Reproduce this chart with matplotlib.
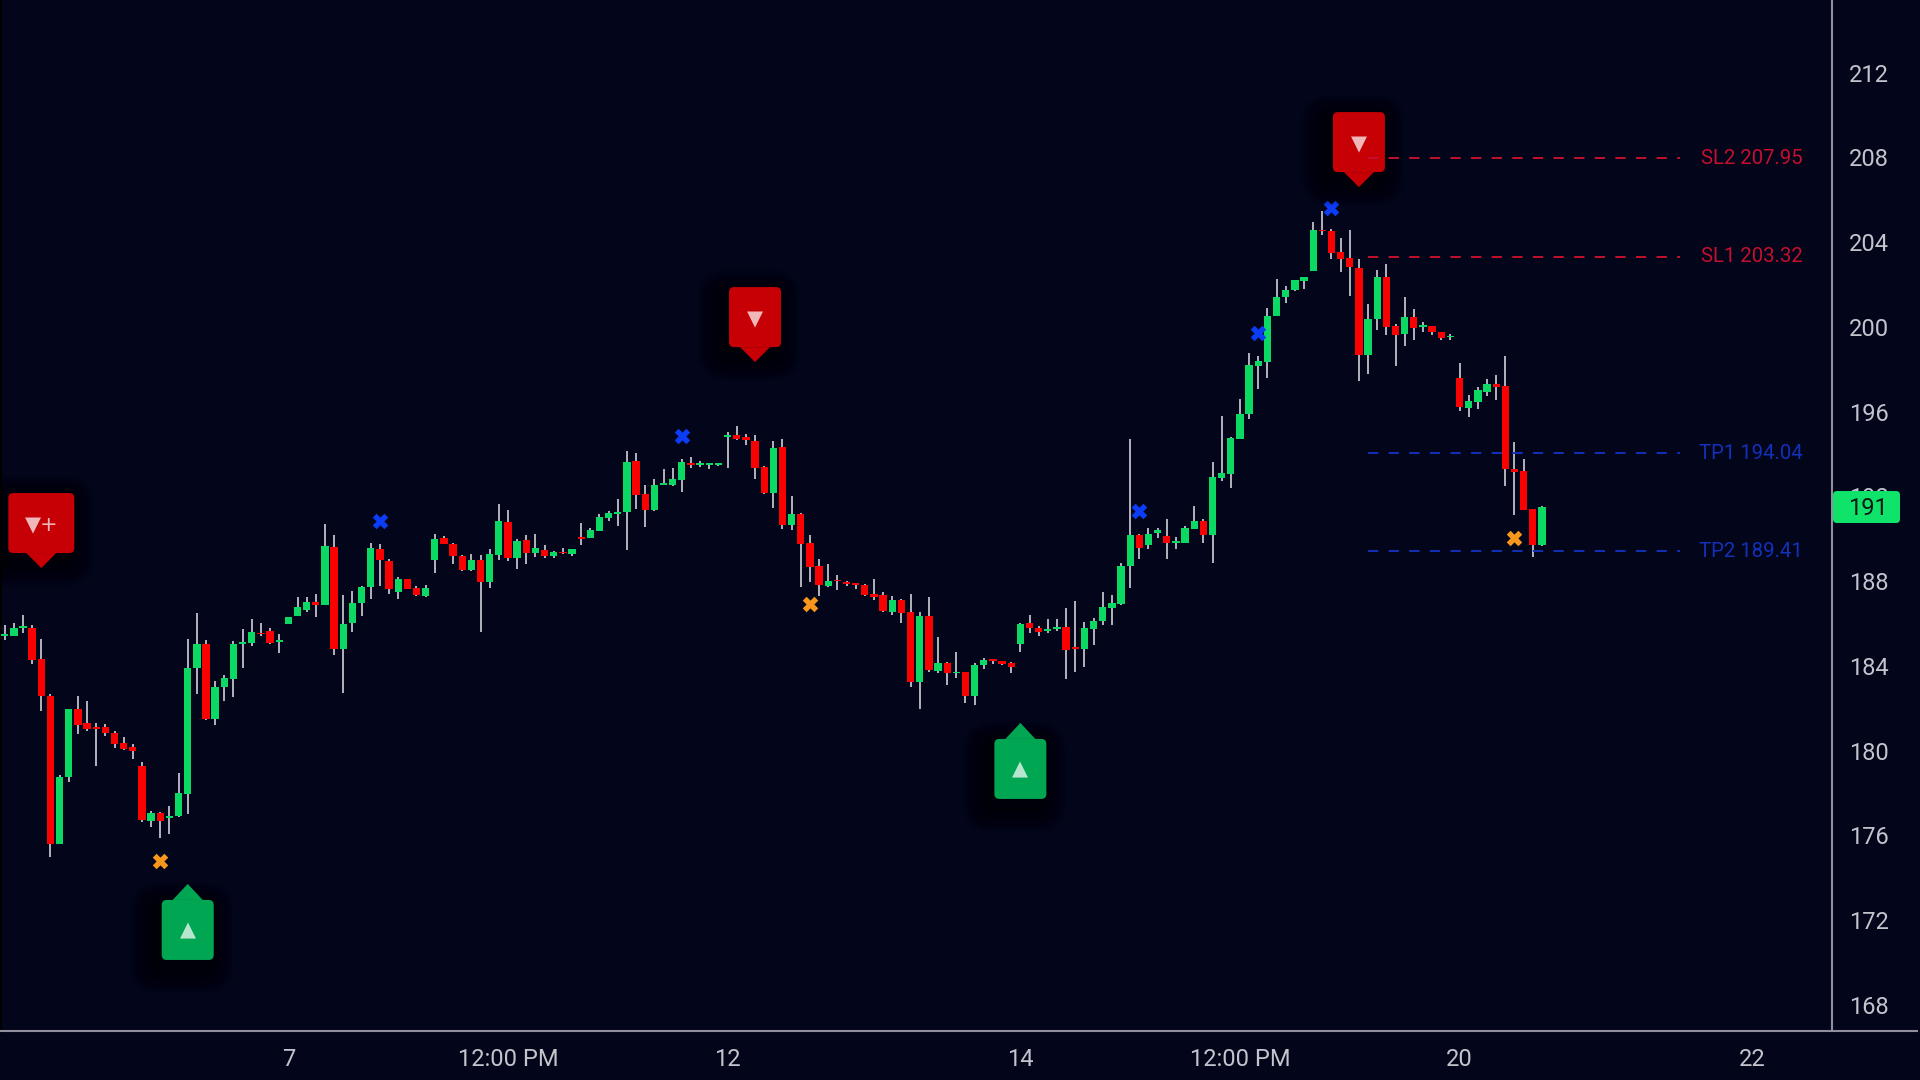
import matplotlib

matplotlib.use("Agg")

import matplotlib.pyplot as plt
import numpy as np
from matplotlib.lines import Line2D
from matplotlib.patches import FancyBboxPatch, Polygon
from matplotlib.transforms import IdentityTransform

plt.rcParams["font.family"] = ["Roboto", "DejaVu Sans"]

opens = [
    185.41, 185.43, 185.79, 185.78, 184.33, 182.58, 175.58, 178.74, 181.98, 181.29,
    181.09, 181.10, 180.85, 180.35, 180.19, 179.28, 176.70, 177.05, 176.80, 176.92,
    177.97, 183.90, 185.05, 181.48, 183.01, 183.40, 185.05, 185.10, 185.56, 185.67,
    185.13, 185.98, 186.36, 186.63, 187.02, 186.89, 189.61, 184.79, 186.01, 186.97,
    187.71, 189.50, 188.97, 187.51, 188.10, 187.66, 187.29, 188.99, 190.04, 189.76,
    189.19, 188.53, 188.99, 187.95, 189.24, 190.81, 189.11, 189.94, 189.33, 189.47,
    189.20, 189.38, 189.27, 190.07, 190.04, 190.38, 190.98, 191.15, 191.26, 193.67,
    192.11, 191.36, 192.55, 192.54, 192.79, 193.58, 193.50, 193.48, 193.48, 194.79,
    194.90, 194.82, 194.63, 193.39, 192.18, 194.33, 190.65, 191.17, 189.80, 188.72,
    187.77, 188.06, 187.96, 187.87, 187.82, 187.40, 187.35, 186.53, 187.11, 186.55,
    183.24, 186.37, 183.76, 184.12, 183.65, 183.70, 182.60, 184.03, 184.31, 184.23,
    184.14, 185.02, 186.01, 185.79, 185.66, 185.76, 185.84, 184.88, 184.82, 185.76,
    186.11, 186.75, 186.91, 188.73, 190.20, 189.69, 190.26, 190.13, 189.80, 189.82,
    190.45, 190.86, 190.20, 192.88, 193.04, 194.69, 195.89, 198.17, 198.36, 200.53,
    201.41, 201.74, 202.17, 202.64, 204.58, 204.53, 203.54, 203.25, 202.78, 198.69,
    200.36, 202.34, 200.05, 199.67, 200.47, 200.01, 200.05, 199.75, 199.51, 197.59,
    196.19, 196.47, 196.94, 197.30, 197.19, 193.29, 193.20, 191.41, 189.71,
]
highs = [
    185.93, 186.01, 186.39, 185.93, 185.26, 182.66, 178.87, 181.98, 182.58, 182.33,
    181.29, 181.26, 180.95, 180.65, 180.30, 179.45, 177.14, 177.11, 177.39, 178.93,
    185.26, 186.51, 185.21, 183.31, 183.57, 185.16, 185.76, 186.20, 186.01, 185.79,
    185.52, 186.31, 187.24, 187.27, 187.40, 190.69, 190.20, 187.36, 187.52, 187.77,
    189.82, 189.74, 189.06, 188.21, 188.10, 187.77, 187.81, 190.23, 190.13, 189.80,
    189.24, 189.27, 189.24, 189.52, 191.63, 191.36, 189.99, 190.20, 190.23, 189.72,
    189.42, 189.58, 189.52, 190.75, 190.49, 191.19, 191.30, 191.89, 194.14, 194.03,
    192.54, 192.81, 193.28, 193.34, 193.75, 193.88, 193.66, 193.55, 193.55, 195.02,
    195.32, 194.95, 194.90, 193.42, 194.60, 194.73, 192.00, 191.20, 190.16, 189.05,
    188.81, 188.29, 188.02, 187.88, 187.87, 188.12, 187.47, 187.28, 187.16, 187.41,
    186.55, 187.27, 185.37, 184.19, 184.67, 183.73, 184.12, 184.37, 184.33, 184.25,
    184.20, 186.03, 186.39, 185.87, 186.20, 186.20, 186.75, 187.05, 186.09, 186.26,
    187.47, 187.36, 188.87, 194.69, 190.21, 190.49, 190.51, 190.92, 190.10, 190.60,
    191.55, 190.95, 193.62, 195.79, 194.79, 196.58, 198.78, 198.65, 200.89, 202.25,
    201.93, 202.20, 202.34, 204.94, 205.46, 204.61, 204.21, 204.58, 203.21, 201.08,
    202.67, 202.99, 200.16, 201.41, 200.83, 200.25, 200.06, 199.75, 199.67, 198.28,
    196.77, 197.18, 197.52, 197.73, 198.62, 194.55, 193.75, 191.41, 191.56,
]
lows = [
    185.23, 185.43, 185.54, 184.09, 181.89, 175.00, 175.58, 178.51, 180.79, 180.95,
    179.30, 180.71, 180.15, 180.04, 179.61, 176.64, 176.42, 175.88, 176.06, 176.89,
    177.01, 182.68, 181.45, 181.23, 182.35, 182.55, 183.89, 184.96, 185.41, 185.05,
    184.63, 185.98, 186.36, 186.55, 186.33, 186.86, 184.53, 182.71, 185.61, 186.37,
    187.14, 187.77, 187.41, 187.14, 187.62, 187.29, 187.24, 188.40, 189.74, 188.83,
    188.48, 188.47, 185.61, 187.69, 189.02, 188.95, 188.57, 188.81, 189.14, 189.09,
    189.09, 189.28, 189.20, 189.72, 190.02, 190.35, 190.82, 190.60, 189.49, 191.42,
    190.54, 191.33, 192.52, 192.49, 192.22, 193.33, 193.40, 193.31, 193.45, 193.34,
    194.68, 194.43, 192.82, 192.13, 191.47, 190.48, 190.42, 187.73, 187.98, 187.32,
    187.71, 187.58, 187.76, 187.62, 187.32, 187.11, 186.56, 186.42, 186.04, 183.02,
    181.95, 183.73, 183.68, 183.09, 183.45, 182.27, 182.14, 183.84, 184.11, 184.06,
    183.67, 184.66, 185.57, 185.43, 185.54, 185.63, 183.37, 183.70, 183.93, 184.99,
    185.95, 185.95, 186.86, 187.69, 189.05, 189.52, 190.02, 189.05, 189.52, 189.82,
    190.45, 189.79, 188.87, 192.73, 192.38, 194.69, 195.65, 197.09, 197.61, 200.52,
    201.15, 201.71, 201.79, 202.64, 204.36, 203.19, 202.61, 201.46, 197.43, 197.76,
    199.87, 199.64, 198.14, 199.12, 199.37, 199.76, 199.62, 199.40, 199.40, 196.05,
    195.73, 196.14, 196.75, 196.55, 192.49, 191.12, 191.36, 189.16, 189.68,
]
closes = [
    185.49, 185.78, 185.85, 184.28, 182.58, 175.58, 178.78, 181.98, 181.23, 181.01,
    181.03, 180.82, 180.32, 180.10, 179.99, 176.73, 177.05, 176.70, 176.92, 177.99,
    183.89, 185.05, 181.48, 182.99, 183.42, 185.05, 185.13, 185.59, 185.49, 185.09,
    185.19, 186.30, 186.78, 187.02, 186.89, 189.66, 184.79, 186.00, 186.99, 187.71,
    189.55, 188.99, 187.65, 188.12, 187.62, 187.33, 187.68, 189.99, 189.74, 189.21,
    188.51, 189.00, 187.98, 189.28, 190.86, 189.09, 189.90, 189.35, 189.55, 189.20,
    189.38, 189.31, 189.50, 190.01, 190.40, 191.01, 191.22, 191.28, 193.64, 192.08,
    191.36, 192.54, 192.62, 192.81, 193.62, 193.50, 193.56, 193.53, 193.53, 194.91,
    194.69, 194.65, 193.34, 192.18, 194.28, 190.65, 191.15, 189.77, 188.68, 187.82,
    187.99, 187.99, 187.85, 187.82, 187.33, 187.25, 186.61, 187.10, 186.48, 183.26,
    186.37, 183.79, 184.15, 183.67, 183.71, 182.60, 184.06, 184.28, 184.23, 184.09,
    183.95, 186.00, 185.79, 185.62, 185.74, 185.82, 184.77, 184.80, 185.79, 186.14,
    186.78, 186.95, 188.72, 190.18, 189.57, 190.23, 190.42, 189.79, 189.88, 190.51,
    190.86, 190.16, 192.92, 193.12, 194.74, 195.89, 198.20, 198.39, 200.52, 201.41,
    201.73, 202.20, 202.34, 204.56, 204.51, 203.49, 203.21, 202.83, 198.69, 200.36,
    202.34, 200.01, 199.64, 200.45, 199.95, 200.08, 199.76, 199.49, 199.56, 196.20,
    196.50, 197.00, 197.32, 197.16, 193.28, 193.17, 191.36, 189.71, 191.50,
]

y_ticks = [168, 172, 176, 180, 184, 188, 192, 196, 200, 204, 208, 212]
x_ticks = [31, 55, 79, 111, 135, 159, 191]
x_labels = ["7", "12:00 PM", "12", "14", "12:00 PM", "20", "22"]

blue_x = [41, 74, 124, 137, 145]
blue_y = [190.85, 194.84, 191.30, 199.71, 205.63]
orange_x = [17, 88, 165]
orange_y = [174.80, 186.92, 190.02]

level_names = ["SL2", "SL1", "TP1", "TP2"]
level_prices = [207.95, 203.32, 194.04, 189.41]
level_colors = ["#c4102e", "#c4102e", "#1330b8", "#1330b8"]

sell_x = [4, 82, 148]
sell_tip = [188.62, 198.34, 206.60]
sell_text = ["▼+", "▼", "▼"]
buy_x = [20, 111]
buy_tip = [173.71, 181.31]

BG = "#03051a"
UP = "#0bd964"
DOWN = "#fb0000"
WICK = "#d0d1d8"
AXIS = "#8f8f9e"
LABEL = "#c3c4cc"

fig = plt.figure(figsize=(19.2, 10.8), dpi=100, facecolor=BG)
ax = fig.add_axes([0, 49 / 1080, 1832 / 1920, 1031 / 1080], facecolor=BG)
ax.set_xlim(-0.514, 199.7)
ax.set_ylim(166.77, 215.43)

# candles: wicks go under the bodies, dojis still need a visible body
xs = np.arange(len(opens))
o = np.array(opens)
c = np.array(closes)
colors = [UP if b >= a else DOWN for a, b in zip(opens, closes)]
ax.vlines(xs, lows, highs, color=WICK, linewidth=1.2, zorder=2)
ax.bar(
    xs,
    np.maximum(np.abs(c - o), 0.08),
    bottom=np.minimum(o, c),
    width=0.8,
    color=colors,
    linewidth=0,
    zorder=3,
)

ax.scatter(blue_x, blue_y, marker="X", s=125, color="#0b3cf6", linewidths=0, zorder=4)
ax.scatter(orange_x, orange_y, marker="X", s=125, color="#f7981d", linewidths=0, zorder=4)


def draw_flag(i, tip_price, color, width, text, pointing_down):
    """Signal flag with a small pointer, laid out in pixels from its tip."""
    px, py = ax.transData.transform((i, tip_price))
    if pointing_down:
        y0 = py + 15
        base_y = y0
        text_y = y0 + 28
    else:
        y0 = py - 76
        base_y = py - 16
        text_y = y0 + 30
    x0 = px - width / 2
    # soft dark shadow, a bit down and to the left of the flag
    for grow in range(2, 28, 2):
        ax.add_patch(
            FancyBboxPatch(
                (x0 - grow - 6, y0 - grow - 8),
                width + 2 * grow,
                60 + 2 * grow,
                boxstyle=f"round,pad=0,rounding_size={grow + 4}",
                transform=IdentityTransform(),
                facecolor="black",
                edgecolor="none",
                alpha=0.06,
                zorder=4.2,
            )
        )
    ax.add_patch(
        FancyBboxPatch(
            (x0, y0),
            width,
            60,
            boxstyle="round,pad=0,rounding_size=5",
            transform=IdentityTransform(),
            facecolor=color,
            edgecolor="none",
            zorder=4.5,
        )
    )
    ax.add_patch(
        Polygon(
            [(px - 15, base_y), (px + 15, base_y), (px, py)],
            transform=IdentityTransform(),
            facecolor=color,
            edgecolor="none",
            zorder=4.5,
        )
    )
    ax.text(
        px,
        text_y,
        text,
        transform=IdentityTransform(),
        family="DejaVu Sans",
        fontsize=15,
        color="white",
        alpha=0.72,
        ha="center",
        va="center",
        zorder=4.6,
    )


for i, price, label in zip(sell_x, sell_tip, sell_text):
    draw_flag(i, price, "#c70005", 66 if "+" in label else 52, label, True)
for i, price in zip(buy_x, buy_tip):
    draw_flag(i, price, "#00a651", 52, "▲", False)

# target and stop levels are drawn over the flags
for name, price, color in zip(level_names, level_prices, level_colors):
    ax.plot(
        [149, 183.1],
        [price, price],
        color=color,
        linewidth=1.4,
        linestyle=(0, (5.3, 5.3)),
        zorder=5,
    )
    ax.text(
        196.5,
        price,
        f"{name} {price:.2f}",
        color=color,
        fontsize=14.7,
        ha="right",
        va="center",
        zorder=5,
    )

for side in ("top",):
    ax.spines[side].set_visible(False)
ax.spines["left"].set_color("black")
ax.spines["left"].set_linewidth(2.9)
for side in ("right", "bottom"):
    ax.spines[side].set_color(AXIS)
    ax.spines[side].set_linewidth(1.5)
fig.add_artist(
    Line2D([1832 / 1920, 1917 / 1920], [49 / 1080, 49 / 1080], color=AXIS, linewidth=1.5)
)

ax.yaxis.tick_right()
ax.set_yticks(y_ticks)
ax.set_xticks(x_ticks)
ax.set_xticklabels(x_labels)
ax.tick_params(axis="y", length=0, pad=12, labelsize=17, labelcolor=LABEL)
ax.tick_params(axis="x", length=0, pad=12, labelsize=17, labelcolor=LABEL)

# last price tag on the price scale, covers the 192 tick label
last_price = closes[-1]
_, tag_y = ax.transData.transform((0, last_price))
ax.add_patch(
    FancyBboxPatch(
        (1833, tag_y - 16),
        67,
        32,
        boxstyle="round,pad=0,rounding_size=4",
        transform=IdentityTransform(),
        facecolor="#0fe36a",
        edgecolor="none",
        clip_on=False,
        zorder=6,
    )
)
ax.text(
    1868,
    tag_y - 1,
    f"{int(last_price)}",
    transform=IdentityTransform(),
    color="#0a1a12",
    fontsize=17,
    ha="center",
    va="center",
    clip_on=False,
    zorder=7,
)

fig.savefig("out.png", dpi=100, facecolor=BG)
plt.close(fig)
